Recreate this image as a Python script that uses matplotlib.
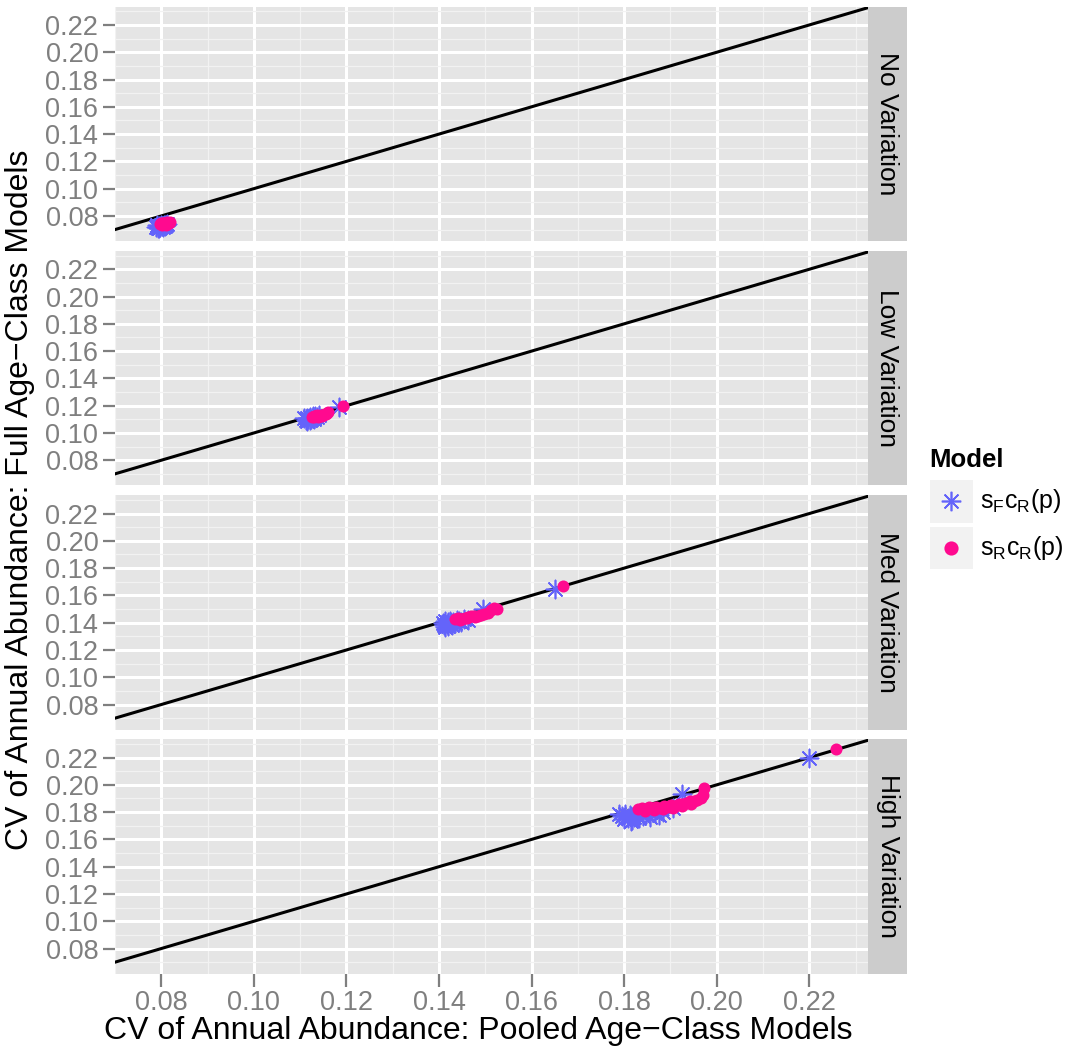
import numpy as np
import matplotlib.pyplot as plt
from matplotlib.patches import Rectangle

plt.rcParams['font.family'] = ['Liberation Sans', 'DejaVu Sans']
plt.rcParams['mathtext.fontset'] = 'custom'
plt.rcParams['mathtext.rm'] = 'Liberation Sans'
plt.rcParams['mathtext.it'] = 'Liberation Sans'

panels = ['No Variation', 'Low Variation', 'Med Variation', 'High Variation']
models = [r'$\mathregular{s_Fc_R(p)}$', r'$\mathregular{s_Rc_R(p)}$']

## sFcR(p) model
sf_x = [
    [0.0788, 0.0792, 0.0795, 0.0798, 0.0800, 0.0803, 0.0806, 0.0809, 0.0812, 0.0796, 0.0801, 0.0807, 0.0790, 0.0804, 0.0810],
    [0.1108, 0.1112, 0.1115, 0.1118, 0.1121, 0.1124, 0.1127, 0.1130, 0.1133, 0.1136, 0.1140, 0.1114, 0.1122, 0.1129, 0.1185],
    [0.1408, 0.1411, 0.1414, 0.1417, 0.1420, 0.1423, 0.1426, 0.1430, 0.1434, 0.1438, 0.1443, 0.1448, 0.1455, 0.1462, 0.1412, 0.1419, 0.1428, 0.1495, 0.1650],
    [0.1788, 0.1795, 0.1802, 0.1808, 0.1813, 0.1818, 0.1822, 0.1827, 0.1833, 0.1840, 0.1848, 0.1857, 0.1866, 0.1876, 0.1885, 0.1905, 0.1925, 0.1800, 0.1815, 0.1830, 0.2200],
]
sf_y = [
    [0.0722, 0.0715, 0.0728, 0.0719, 0.0733, 0.0724, 0.0737, 0.0729, 0.0740, 0.0712, 0.0726, 0.0731, 0.0730, 0.0718, 0.0735],
    [0.1108, 0.1095, 0.1113, 0.1101, 0.1118, 0.1106, 0.1122, 0.1110, 0.1126, 0.1115, 0.1130, 0.1089, 0.1097, 0.1104, 0.1190],
    [0.1395, 0.1382, 0.1410, 0.1388, 0.1402, 0.1415, 0.1392, 0.1408, 0.1398, 0.1420, 0.1412, 0.1405, 0.1425, 0.1418, 0.1372, 0.1378, 0.1385, 0.1500, 0.1650],
    [0.1785, 0.1772, 0.1790, 0.1760, 0.1778, 0.1745, 0.1768, 0.1782, 0.1755, 0.1772, 0.1788, 0.1765, 0.1795, 0.1780, 0.1800, 0.1830, 0.1930, 0.1752, 0.1738, 0.1762, 0.2200],
]

## sRcR(p) model
sr_x = [
    [0.0797, 0.0800, 0.0803, 0.0806, 0.0809, 0.0812, 0.0815, 0.0818, 0.0801, 0.0807, 0.0813, 0.0804, 0.0810, 0.0816, 0.0799],
    [0.1125, 0.1129, 0.1133, 0.1137, 0.1141, 0.1145, 0.1149, 0.1153, 0.1157, 0.1131, 0.1139, 0.1147, 0.1155, 0.1160, 0.1192],
    [0.1435, 0.1442, 0.1449, 0.1456, 0.1463, 0.1470, 0.1477, 0.1484, 0.1491, 0.1498, 0.1505, 0.1512, 0.1519, 0.1526, 0.1446, 0.1460, 0.1475, 0.1667],
    [0.1830, 0.1838, 0.1846, 0.1854, 0.1862, 0.1870, 0.1878, 0.1886, 0.1894, 0.1902, 0.1910, 0.1918, 0.1926, 0.1934, 0.1942, 0.1950, 0.1958, 0.1966, 0.1972, 0.1845, 0.1865, 0.1885, 0.1905, 0.1925, 0.1945, 0.1970, 0.2258],
]
sr_y = [
    [0.0738, 0.0745, 0.0741, 0.0750, 0.0743, 0.0752, 0.0747, 0.0755, 0.0735, 0.0739, 0.0744, 0.0748, 0.0736, 0.0750, 0.0742],
    [0.1118, 0.1125, 0.1121, 0.1130, 0.1126, 0.1135, 0.1131, 0.1140, 0.1145, 0.1114, 0.1119, 0.1123, 0.1136, 0.1150, 0.1200],
    [0.1425, 0.1432, 0.1428, 0.1438, 0.1441, 0.1446, 0.1443, 0.1452, 0.1458, 0.1462, 0.1470, 0.1495, 0.1510, 0.1502, 0.1420, 0.1435, 0.1448, 0.1672],
    [0.1825, 0.1830, 0.1822, 0.1835, 0.1828, 0.1840, 0.1832, 0.1845, 0.1838, 0.1850, 0.1845, 0.1858, 0.1862, 0.1870, 0.1878, 0.1885, 0.1890, 0.1905, 0.1975, 0.1812, 0.1818, 0.1826, 0.1830, 0.1848, 0.1860, 0.1925, 0.2262],
]

ticks = [0.08, 0.10, 0.12, 0.14, 0.16, 0.18, 0.20, 0.22]
minor = [0.07, 0.09, 0.11, 0.13, 0.15, 0.17, 0.19, 0.21, 0.23]

blue = '#6464FA'
pink = '#FF0A8F'
star = (8, 2, 0)

W, H = 1078, 1053
fig = plt.figure(figsize=(W / 100, H / 100), dpi=100)

left, right = 115, 868
strip_w = 39
tops = [6.7, 251, 495.3, 739.3]
ph = 234.2

for i, name in enumerate(panels):
    ax = fig.add_axes([left / W, 1 - (tops[i] + ph) / H, (right - left) / W, ph / H])
    ax.set_facecolor('#E5E5E5')
    for s in ax.spines.values():
        s.set_visible(False)
    ax.set_xlim(0.0716, 0.2327)
    ax.set_ylim(0.0617, 0.2334)
    ax.set_xticks(ticks)
    ax.set_yticks(ticks)
    ax.set_xticks(minor, minor=True)
    ax.set_yticks(minor, minor=True)
    ax.grid(which='major', color='white', lw=2.2)
    ax.grid(which='minor', color='#F2F2F2', lw=0.9)
    ax.set_axisbelow(True)
    ax.tick_params(which='minor', length=0)
    ax.tick_params(which='major', color='#7F7F7F', length=9, width=1.6,
                   labelcolor='#7F7F7F', labelsize=19.5, pad=3)
    ax.set_yticklabels(['%.2f' % t for t in ticks])
    if i < 3:
        ax.tick_params(axis='x', length=0, labelbottom=False)
    else:
        ax.set_xticklabels(['%.2f' % t for t in ticks])

    ax.axline((0.1, 0.1), slope=1, color='black', lw=2.2, zorder=2)
    ax.scatter(sf_x[i], sf_y[i], marker=star, s=170, color=blue, lw=1.2, zorder=3)
    ax.scatter(sr_x[i], sr_y[i], marker='o', s=75, color=pink, lw=0, zorder=4)

    # facet strip
    sax = fig.add_axes([right / W, 1 - (tops[i] + ph) / H, strip_w / W, ph / H])
    sax.set_facecolor('#CCCCCC')
    sax.set_xticks([])
    sax.set_yticks([])
    for s in sax.spines.values():
        s.set_visible(False)
    sax.text(0.5, 0.5, name, rotation=-90, ha='center', va='center',
             fontsize=19, transform=sax.transAxes)

fig.text(20 / W, 1 - 500 / H, 'CV of Annual Abundance: Full Age\u2212Class Models',
         rotation=90, ha='center', va='center', fontsize=23)
fig.text(478 / W, 1 - 1031 / H, 'CV of Annual Abundance: Pooled Age\u2212Class Models',
         ha='center', va='center', fontsize=23)

## legend
lax = fig.add_axes([0, 0, 1, 1])
lax.set_xlim(0, W)
lax.set_ylim(H, 0)
lax.axis('off')
lax.text(929, 460, 'Model', fontweight='bold', fontsize=18.5, va='center', ha='left')
for k, (lab, col, mk, sz) in enumerate([(models[0], blue, star, 14), (models[1], pink, 'o', 9)]):
    y0 = 480 + k * 46.7
    lax.add_patch(Rectangle((930, y0), 42.7, 42.7, facecolor='#F2F2F2', edgecolor='none'))
    lax.plot([951.3], [y0 + 21.3], marker=mk, ms=sz, color=col, mew=1.2, ls='none')
    lax.text(980, y0 + 21.3, lab, fontsize=18, va='center', ha='left')

plt.savefig('out.png', dpi=100)
